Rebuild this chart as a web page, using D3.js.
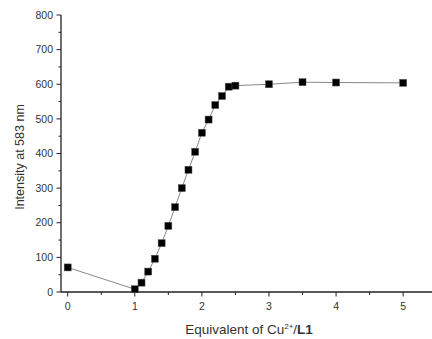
<!DOCTYPE html>
<html><head><meta charset="utf-8">
<script src="https://cdn.jsdelivr.net/npm/d3@7"></script>
<style>body{margin:0;background:#fff}svg{display:block}</style>
</head><body>
<script>
const xValues = [0, 1.0, 1.1, 1.2, 1.3, 1.4, 1.5, 1.6, 1.7, 1.8, 1.9, 2.0, 2.1, 2.2, 2.3, 2.4, 2.5, 3.0, 3.5, 4.0, 5.0];
const intensity = [71, 8, 27, 59, 96, 141, 191, 245, 300, 353, 405, 460, 498, 540, 566, 593, 596, 600, 606, 605, 604];
const xTicks = [0, 1, 2, 3, 4, 5];
const yTicks = [0, 100, 200, 300, 400, 500, 600, 700, 800];

const W = 432, H = 339;
const svg = d3.select("body").append("svg").attr("width", W).attr("height", H);
const x = d3.scaleLinear().domain([-0.1, 5.43]).range([61, 432]);
const y = d3.scaleLinear().domain([0, 800]).range([292, 15]);
const font = "Liberation Sans, Arial, sans-serif";

// y axis
const gy = svg.append("g").attr("transform", "translate(61,0)");
gy.append("line").attr("x1", 0).attr("x2", 0).attr("y1", y(800)).attr("y2", y(0)).attr("stroke", "#222").attr("stroke-width", 1.3);
gy.selectAll(".ym").data(d3.range(50, 800, 100)).join("line")
  .attr("x1", -2.5).attr("x2", 0).attr("y1", d => y(d)).attr("y2", d => y(d)).attr("stroke", "#222");
gy.selectAll(".yM").data(yTicks).join("line")
  .attr("x1", -4.5).attr("x2", 0).attr("y1", d => y(d)).attr("y2", d => y(d)).attr("stroke", "#222");
gy.selectAll("text").data(yTicks).join("text")
  .attr("x", -8).attr("y", d => y(d)).attr("dy", "0.35em").attr("text-anchor", "end")
  .attr("font-family", font).attr("font-size", 10.5).attr("fill", "#333").text(d => d);

// x axis
const gx = svg.append("g").attr("transform", "translate(0,292)");
gx.append("line").attr("x1", 61).attr("x2", 432).attr("y1", 0).attr("y2", 0).attr("stroke", "#222").attr("stroke-width", 1.3);
gx.selectAll(".xm").data([0.5, 1.5, 2.5, 3.5, 4.5]).join("line")
  .attr("x1", d => x(d)).attr("x2", d => x(d)).attr("y1", 0).attr("y2", 3).attr("stroke", "#222");
gx.selectAll(".xM").data(xTicks).join("line")
  .attr("x1", d => x(d)).attr("x2", d => x(d)).attr("y1", 0).attr("y2", 4.5).attr("stroke", "#222");
gx.selectAll("text").data(xTicks).join("text")
  .attr("x", d => x(d)).attr("y", 18).attr("text-anchor", "middle")
  .attr("font-family", font).attr("font-size", 10.5).attr("fill", "#333").text(d => d);

// titles
svg.append("text").attr("transform", "translate(24,157) rotate(-90)").attr("text-anchor", "middle")
  .attr("font-family", font).attr("font-size", 12.5).attr("fill", "#333").text("Intensity at 583 nm");
const xt = svg.append("text").attr("x", 249).attr("y", 334).attr("text-anchor", "middle")
  .attr("font-family", font).attr("font-size", 13.5).attr("fill", "#333");
xt.append("tspan").text("Equivalent of Cu");
xt.append("tspan").attr("dy", -5).attr("font-size", 8).text("2+");
xt.append("tspan").attr("dy", 5).text("/");
xt.append("tspan").attr("font-weight", "bold").text("L1");

// data
const pts = xValues.map((v, i) => [v, intensity[i]]);
svg.append("path").datum(pts)
  .attr("d", d3.line().x(d => x(d[0])).y(d => y(d[1])))
  .attr("fill", "none").attr("stroke", "#888").attr("stroke-width", 1);
svg.selectAll(".pt").data(pts).join("rect")
  .attr("x", d => x(d[0]) - 3.5).attr("y", d => y(d[1]) - 3.5)
  .attr("width", 7).attr("height", 7).attr("fill", "#000").attr("stroke", "#555").attr("stroke-width", 0.5);
</script>
</body></html>
